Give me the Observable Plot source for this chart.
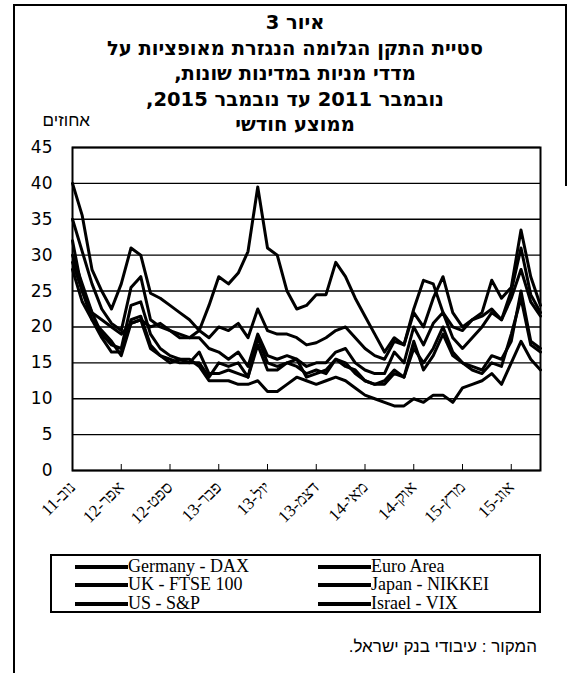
<!DOCTYPE html>
<html>
<head>
<meta charset="utf-8">
<script src="https://cdn.jsdelivr.net/npm/d3@7"></script>
<script src="https://cdn.jsdelivr.net/npm/@observablehq/plot@0.6"></script>
<style>
  html, body { margin: 0; padding: 0; background: #fff; }
  body { width: 568px; height: 673px; position: relative; overflow: hidden; }
  .abs { position: absolute; }
  #chart { position: absolute; left: 0; top: 0; }
  #title { left: 40px; top: 10px; width: 510px; text-align: center; direction: rtl;
           font-family: "DejaVu Sans", sans-serif; font-weight: bold;
           font-size: 19.5px; line-height: 25.5px; color: #000; }
  #unit { left: 20px; top: 111px; width: 70px; text-align: right; direction: rtl;
          font-family: "Liberation Sans", "DejaVu Sans", sans-serif; font-size: 17px; color: #000; }
  #legend { left: 50px; top: 554px; width: 491px; height: 59px; border: 2px solid #000; box-sizing: border-box; }
  .lg { position: absolute; font-family: "Liberation Serif", "Times New Roman", serif; font-size: 18px;
        line-height: 18px; color: #000; white-space: nowrap; }
  .sw { position: absolute; height: 4px; background: #000; }
  #source { right: 31px; top: 637px; direction: rtl; font-family: "Liberation Sans", "DejaVu Sans", sans-serif;
            font-size: 17px; color: #000; white-space: nowrap; }
</style>
</head>
<body>
<div id="chart"></div>
<div class="abs" style="left:13px;top:4px;width:2px;height:669px;background:#000"></div>
<div class="abs" style="left:13px;top:4px;width:554px;height:2px;background:#000"></div>
<div class="abs" style="left:565px;top:4px;width:2px;height:182px;background:#000"></div>
<div id="title" class="abs"></div>
<div id="unit" class="abs"></div>
<div id="legend" class="abs"></div>
<div id="source" class="abs"></div>
<script>
// ---- data ----
const titleLines = [
  "איור 3",
  "סטיית התקן הגלומה הנגזרת מאופציות על",
  "מדדי מניות במדינות שונות,",
  "נובמבר 2011 עד  נובמבר 2015,",
  "ממוצע חודשי"
];
const unitLabel = "אחוזים";
const sourceText = "המקור : עיבודי בנק ישראל.";

const months = ["נוב-11","דצמ-11",
  "ינו-12","פבר-12","מרץ-12","אפר-12","מאי-12","יונ-12","יול-12","אוג-12","ספט-12","אוק-12","נוב-12","דצמ-12",
  "ינו-13","פבר-13","מרץ-13","אפר-13","מאי-13","יונ-13","יול-13","אוג-13","ספט-13","אוק-13","נוב-13","דצמ-13",
  "ינו-14","פבר-14","מרץ-14","אפר-14","מאי-14","יונ-14","יול-14","אוג-14","ספט-14","אוק-14","נוב-14","דצמ-14",
  "ינו-15","פבר-15","מרץ-15","אפר-15","מאי-15","יונ-15","יול-15","אוג-15","ספט-15","אוק-15","נוב-15"];
const tickLabels = ["נוב-11","אפר-12","ספט-12","פבר-13","יול-13","דצמ-13","מאי-14","אוק-14","מרץ-15","אוג-15"];
const yTicks = [0, 5, 10, 15, 20, 25, 30, 35, 40, 45];

const seriesNames = ["Germany - DAX", "Euro Area", "UK - FTSE 100", "Japan - NIKKEI", "US - S&P", "Israel - VIX"];

const germany = [35, 30.5, 26, 22.5, 20.5, 19.5, 25.5, 27, 21, 20, 19.5, 19, 18.5, 18.5, 17, 16.5, 15.5, 16.5, 14.5, 19,
  16, 15.5, 16, 15.5, 14.5, 15, 15, 16.5, 17, 15, 14, 13.5, 13.5, 16.5, 15, 20, 17.5, 20.5, 22, 18.5,
  17, 18.5, 20, 22, 21, 24, 28, 23.5, 21.5];
const euroArea = [40, 35.5, 28, 25, 22.5, 26, 31, 30, 24.7, 24, 23, 22, 21, 19.5, 18.5, 20, 19.5, 20.5, 18.5, 22.5,
  19.5, 19, 19, 18.5, 17.5, 17.8, 18.5, 19.5, 20, 18.5, 17, 16, 15.5, 18, 17.5, 22, 20, 24, 27, 22,
  20, 21, 22, 26.5, 24, 25.5, 33.5, 27, 23];
const uk = [30, 26, 22, 19, 17.5, 17, 23, 23.5, 19, 17, 16, 15.5, 15, 15, 13, 15, 14.5, 15, 13, 18.5,
  15, 14.5, 15, 14.5, 13.5, 14, 13.5, 15.5, 15, 13.5, 12.5, 12, 12, 13.5, 13, 17, 15, 17, 20, 16.5,
  15, 14.5, 14, 16, 15.5, 18, 25, 18, 17];
const japan = [29, 25, 22, 21, 20, 19, 20.5, 21, 20, 20.5, 19.5, 18.5, 18.5, 19.5, 23, 27, 26, 27.5, 30.5, 39.5,
  31, 30, 25, 22.5, 23, 24.5, 24.5, 29, 27, 24, 21.5, 19, 16.5, 18.5, 17.5, 22.5, 26.5, 26, 22, 20,
  19.5, 21, 21.5, 22.5, 21, 25, 31, 24.5, 22];
const us = [32, 25, 21, 18.5, 16.5, 16.5, 21, 21.5, 17.5, 16, 15.5, 15, 15, 16.5, 13.5, 13.5, 14, 13.5, 13, 17.5,
  14, 14, 15, 15.5, 13, 13.5, 14, 15.5, 14.5, 14, 12.5, 12, 12.5, 14, 13, 18, 14, 16, 19, 16,
  15, 14, 13.5, 15, 14.5, 19, 24, 17.5, 16.5];
const israel = [28, 23.5, 21, 19.5, 18, 16, 20.5, 21, 17, 16, 15, 15.5, 15.5, 14.5, 12.5, 12.5, 12.5, 12, 12, 12.5,
  11, 11, 12, 13, 12.5, 12, 12.5, 13, 12.5, 11.5, 10.5, 10, 9.5, 9, 9, 10, 9.5, 10.5, 10.5, 9.5,
  11.5, 12, 12.5, 13.5, 12, 15, 18, 15.5, 14];

const seriesValues = [germany, euroArea, uk, japan, us, israel];

// ---- build table ----
const rows = [];
seriesNames.forEach((name, s) => {
  seriesValues[s].forEach((v, i) => rows.push({series: name, month: months[i], value: v}));
});

// ---- text ----
document.getElementById("title").innerHTML = titleLines.map(t => `<div>${t}</div>`).join("");
document.getElementById("unit").textContent = unitLabel;
document.getElementById("source").textContent = sourceText;

// legend
const legend = document.getElementById("legend");
const colX = [23, 266];
const rowY = [0.5, 19, 37.5];
const legendOrder = [[0, 1], [2, 3], [4, 5]];
legendOrder.forEach((pair, r) => {
  pair.forEach((si, c) => {
    const sw = document.createElement("div");
    sw.className = "sw";
    sw.style.left = colX[c] + "px";
    sw.style.width = "53px";
    sw.style.top = (rowY[r] + 8) + "px";
    legend.appendChild(sw);
    const t = document.createElement("div");
    t.className = "lg";
    t.style.left = (colX[c] + 53) + "px";
    t.style.top = rowY[r] + "px";
    t.textContent = seriesNames[si];
    legend.appendChild(t);
  });
});

// ---- chart ----
const chart = Plot.plot({
  width: 568,
  height: 673,
  marginLeft: 72,
  marginRight: 28,
  marginTop: 147,
  marginBottom: 203,
  style: {background: "transparent", color: "#000"},
  x: {type: "point", domain: months, padding: 0},
  y: {domain: [0, 45]},
  marks: [
    Plot.gridY(yTicks, {stroke: "#000", strokeOpacity: 1, strokeWidth: 1.4}),
    Plot.line(rows, {x: "month", y: "value", z: "series", stroke: "#000", strokeWidth: 3, strokeLinejoin: "round"}),
    Plot.frame({stroke: "#000", strokeWidth: 2}),
    Plot.axisY({ticks: yTicks, tickSize: 0, tickPadding: 20, label: null, fontSize: 17,
                fontFamily: "DejaVu Sans, sans-serif"}),
    Plot.axisX({ticks: tickLabels, tickSize: -6, tickPadding: 20, tickRotate: -45, label: null,
                fontSize: 17, fontFamily: "Liberation Serif, DejaVu Serif, serif", stroke: "#000"})
  ]
});
document.getElementById("chart").appendChild(chart);
</script>
</body>
</html>
